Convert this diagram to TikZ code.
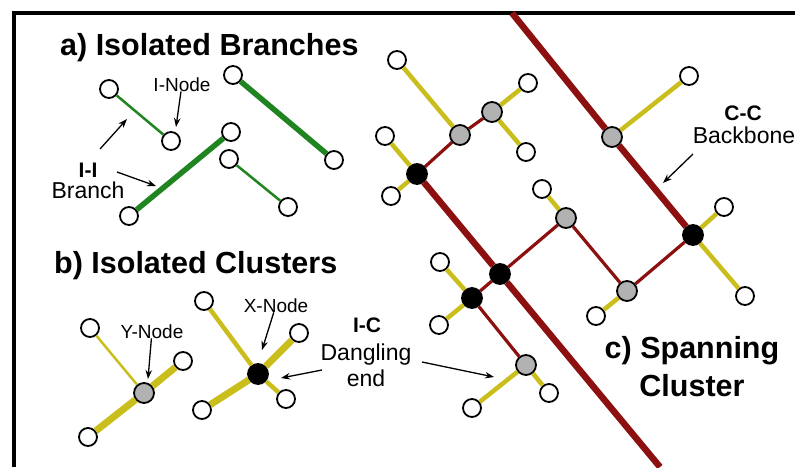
\documentclass[tikz,border=0pt]{standalone}
\usepackage{fontspec}
\setmainfont{Liberation Sans}
\usepackage{xcolor}
\usepackage{tikz}
\usetikzlibrary{arrows.meta}

\definecolor{bbred}{RGB}{140,16,16}
\definecolor{icyel}{RGB}{202,190,28}
\definecolor{iigreen}{RGB}{32,132,32}
\definecolor{ygray}{RGB}{178,178,178}

\begin{document}
\begin{tikzpicture}[
  x=1pt, y=-1pt,
  inode/.style={circle, draw, line width=1.8pt, fill=white, minimum size=18pt, inner sep=0pt},
  ynode/.style={circle, draw, line width=1.8pt, fill=ygray, minimum size=20pt, inner sep=0pt},
  xnode/.style={circle, draw, line width=1.8pt, fill=black, minimum size=20pt, inner sep=0pt},
  title/.style={font=\fontsize{30.5}{36}\selectfont\bfseries, inner sep=0pt},
  sub/.style={font=\fontsize{23}{27}\selectfont, anchor=base, inner sep=0pt},
  subb/.style={font=\fontsize{21}{25}\selectfont\bfseries, anchor=base, inner sep=0pt},
  tag/.style={font=\fontsize{19}{23}\selectfont, anchor=base, inner sep=0pt},
  iithin/.style={iigreen, line width=2.5pt},
  iithick/.style={iigreen, line width=5.5pt},
  icthin/.style={icyel, line width=2.5pt},
  ic/.style={icyel, line width=4.5pt},
  icthick/.style={icyel, line width=7pt},
  cc/.style={bbred, line width=3.2pt},
  backbone/.style={bbred, line width=6.5pt},
  arrow/.style={-{Stealth[length=9pt,width=6.5pt]}, line width=1.3pt}
]
\useasboundingbox (0,0) rectangle (795,467);
\draw[line width=4pt] (14,467) -- (14,13) -- (795,13);

\node[title, anchor=base west] (ta) at (60,55) {a) Isolated Branches};
\node[title, anchor=base west] (tb) at (54,273) {b) Isolated Clusters};
\node[title, anchor=base] (tc) at (692,358) {c) Spanning};
\node[title, anchor=base] (tc2) at (692,396) {Cluster};

\node[inode] (a1) at (109,89) {};
\node[inode] (a2) at (171,141) {};
\node[inode] (a3) at (233,75) {};
\node[inode] (a4) at (334,160) {};
\node[inode] (a5) at (129,216) {};
\node[inode] (a6) at (231,132) {};
\node[inode] (a7) at (229,159) {};
\node[inode] (a8) at (288,207) {};

\draw[iithin] (a1) -- (a2);
\draw[iithick] (a3) -- (a4);
\draw[iithick] (a5) -- (a6);
\draw[iithin] (a7) -- (a8);

\node[tag] (inodelbl) at (182,91) {I-Node};
\node[subb] (iilbl) at (88,177) {I-I};
\node[sub] (branchlbl) at (88,198) {Branch};
\coordinate (inodetip) at (176,127);
\coordinate (iifrom) at (100,149);
\coordinate (iitip) at (127,119);
\coordinate (brfrom) at (117,172);
\coordinate (brtip) at (156,186);
\draw[arrow] (inodelbl) -- (inodetip);
\draw[arrow] (iifrom) -- (iitip);
\draw[arrow] (brfrom) -- (brtip);

\node[inode] (y1) at (90,328) {};
\node[ynode] (ynd) at (144,393) {};
\node[inode] (y2) at (183,361) {};
\node[inode] (y3) at (88,437) {};
\node[inode] (x1) at (204,301) {};
\node[xnode] (xnd) at (258,374) {};
\node[inode] (x2) at (299,333) {};
\node[inode] (x3) at (202,410) {};
\node[inode] (x4) at (286,399) {};

\draw[icthin] (y1) -- (ynd);
\draw[icthick] (y3) -- (ynd);
\draw[icthick] (ynd) -- (y2);
\draw[ic] (x1) -- (xnd);
\draw[ic] (xnd) -- (x4);
\draw[icthick] (x3) -- (xnd);
\draw[icthick] (xnd) -- (x2);

\node[tag] (ynodelbl) at (152,338) {Y-Node};
\node[tag] (xnodelbl) at (276,312) {X-Node};
\coordinate (ynodetip) at (148,379);
\coordinate (xnodetip) at (262,350);
\draw[arrow] (ynodelbl) -- (ynodetip);
\draw[arrow] (xnodelbl) -- (xnodetip);

\node[subb] (iclbl) at (367,332) {I-C};
\node[sub] (danglbl) at (366,360) {Dangling};
\node[sub] (endlbl) at (366,386) {end};
\coordinate (dfrom1) at (322,370);
\coordinate (dtip1) at (281,378);
\coordinate (dfrom2) at (422,362);
\coordinate (dtip2) at (494,377);
\draw[arrow] (dfrom1) -- (dtip1);
\draw[arrow] (dfrom2) -- (dtip2);

\node[inode] (s1) at (397,60) {};
\node[ynode] (ga) at (460,135) {};
\node[ynode] (gb) at (492,112) {};
\node[inode] (s2) at (528,83) {};
\node[inode] (s3) at (526,152) {};
\node[inode] (s4) at (385,136) {};
\node[xnode] (b2) at (417,174) {};
\node[inode] (s5) at (391,196) {};
\node[ynode] (g1) at (612,137) {};
\node[inode] (s6) at (689,76) {};
\node[inode] (s7) at (542,189) {};
\node[ynode] (gc) at (566,218) {};
\node[inode] (s8) at (724,207) {};
\node[xnode] (b1) at (693,235) {};
\node[xnode] (b3) at (500,274) {};
\node[inode] (s9) at (440,262) {};
\node[xnode] (b4) at (472,298) {};
\node[inode] (s10) at (439,325) {};
\node[ynode] (gd) at (627,291) {};
\node[inode] (s11) at (596,316) {};
\node[inode] (s12) at (745,296) {};
\node[ynode] (ge) at (526,365) {};
\node[inode] (s13) at (472,408) {};
\node[inode] (s14) at (549,393) {};
\coordinate (bbtop) at (512,13);
\coordinate (bbbot) at (660,467);

\draw[backbone] (bbtop) -- (g1);
\draw[backbone] (g1) -- (b1);
\draw[backbone] (b2) -- (b3);
\draw[backbone] (b3) -- (bbbot);

\draw[cc] (b2) -- (ga);
\draw[cc] (ga) -- (gb);
\draw[cc] (b3) -- (gc);
\draw[cc] (gc) -- (gd);
\draw[cc] (gd) -- (b1);
\draw[cc] (b3) -- (b4);
\draw[cc] (b4) -- (ge);

\draw[ic] (s1) -- (ga);
\draw[ic] (gb) -- (s2);
\draw[ic] (gb) -- (s3);
\draw[ic] (s4) -- (b2);
\draw[ic] (b2) -- (s5);
\draw[ic] (g1) -- (s6);
\draw[ic] (s7) -- (gc);
\draw[ic] (b1) -- (s8);
\draw[ic] (b1) -- (s12);
\draw[ic] (s9) -- (b4);
\draw[ic] (b4) -- (s10);
\draw[ic] (gd) -- (s11);
\draw[ic] (ge) -- (s13);
\draw[ic] (ge) -- (s14);

\node[subb] (cclbl) at (743,120) {C-C};
\node[sub] (bblbl) at (744,143) {Backbone};
\coordinate (bbfrom) at (693,154);
\coordinate (bbtip) at (663,183);
\draw[arrow] (bbfrom) -- (bbtip);
\end{tikzpicture}
\end{document}
